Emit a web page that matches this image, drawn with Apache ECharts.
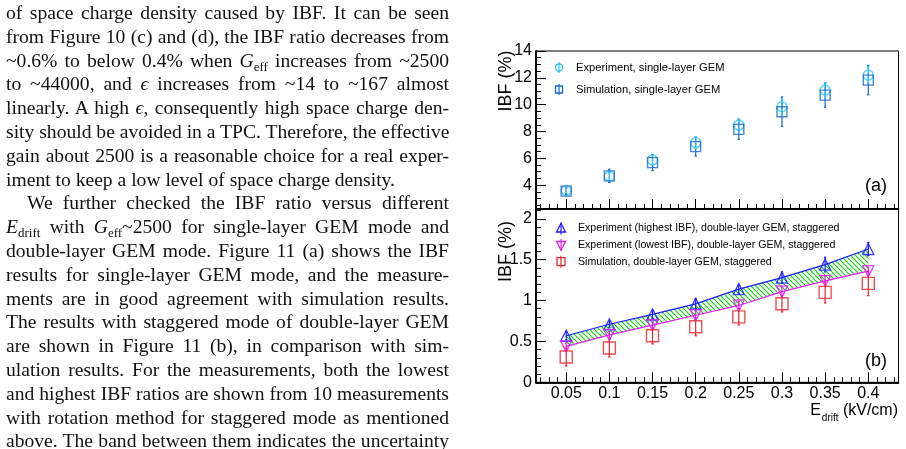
<!DOCTYPE html>
<html lang="en">
<head>
<meta charset="UTF-8">
<title>IBF vs Edrift</title>
<script src="https://cdn.jsdelivr.net/npm/echarts@6/dist/echarts.min.js"></script>
<style>
  body { margin: 0; background: #fff; }
  #page { position: relative; width: 906px; height: 449px; overflow: hidden; }
  #chart { position: absolute; left: 0; top: 0; width: 906px; height: 449px; }
  .ln { position: absolute; left: 6px; width: 443px; height: 23.8px; line-height: 23.8px;
        font-family: 'Liberation Serif', 'DejaVu Serif', serif; font-size: 19.6px; color: #111;
        white-space: nowrap; text-align: justify; text-align-last: justify; }
  .ln.left { text-align: left; text-align-last: left; }
  .ln sub { font-size: 13px; vertical-align: baseline; position: relative; top: 4px; }
</style>
</head>
<body>
<div id="page">
  <div id="chart"></div>
  <div id="text"></div>
</div>
<script>
// values
const xVals = [0.05, 0.1, 0.15, 0.2, 0.25, 0.3, 0.35, 0.4]
const xTickLabels = ['0.05', '0.1', '0.15', '0.2', '0.25', '0.3', '0.35', '0.4']
const topTicks = [4, 6, 8, 10, 12, 14]
const bottomTicks = [0, 0.5, 1, 1.5, 2]

// (a) single-layer GEM
const expSingle = [3.6, 4.64, 5.88, 7.17, 8.48, 9.84, 11.09, 12.2]
const expSingleErr = [0.2, 0.3, 0.35, 0.45, 0.45, 0.55, 0.55, 0.65]
const simSingle = [3.55, 4.69, 5.68, 6.87, 8.16, 9.47, 10.71, 11.83]
const simSingleErr = [0.25, 0.5, 0.6, 0.7, 0.75, 1.1, 0.9, 1.1]

// (b) double-layer GEM, staggered
const expHigh = [0.57, 0.71, 0.83, 0.96, 1.14, 1.28, 1.44, 1.63]
const expHighErr = [0.05, 0.04, 0.05, 0.06, 0.05, 0.07, 0.09, 0.08]
const expLow = [0.44, 0.58, 0.70, 0.82, 0.94, 1.11, 1.24, 1.36]
const expLowErr = [0.04, 0.04, 0.04, 0.05, 0.05, 0.05, 0.06, 0.05]
const simDouble = [0.31, 0.42, 0.57, 0.68, 0.80, 0.96, 1.10, 1.21]
const simDoubleErr = [0.11, 0.11, 0.1, 0.11, 0.1, 0.1, 0.13, 0.15]

const textLines = [
  ['of space charge density caused by IBF. It can be seen', ''],
  ['from Figure 10 (c) and (d), the IBF ratio decreases from', ''],
  ['~0.6% to below 0.4% when <i>G</i><sub>eff</sub> increases from ~2500', ''],
  ['to ~44000, and <i>ϵ</i> increases from ~14 to ~167 almost', ''],
  ['linearly. A high <i>ϵ</i>, consequently high space charge den-', ''],
  ['sity should be avoided in a TPC. Therefore, the effective', ''],
  ['gain about 2500 is a reasonable choice for a real exper-', ''],
  ['iment to keep a low level of space charge density.', 'left'],
  ['We further checked the IBF ratio versus different', 'indent'],
  ['<i>E</i><sub>drift</sub> with <i>G</i><sub>eff</sub>~2500 for single-layer GEM mode and', ''],
  ['double-layer GEM mode. Figure 11 (a) shows the IBF', ''],
  ['results for single-layer GEM mode, and the measure-', ''],
  ['ments are in good agreement with simulation results.', ''],
  ['The results with staggered mode of double-layer GEM', ''],
  ['are shown in Figure 11 (b), in comparison with sim-', ''],
  ['ulation results. For the measurements, both the lowest', ''],
  ['and highest IBF ratios are shown from 10 measurements', ''],
  ['with rotation method for staggered mode as mentioned', ''],
  ['above. The band between them indicates the uncertainty', '']
]

const textBox = document.getElementById('text')
textLines.forEach((l, i) => {
  const d = document.createElement('div')
  d.className = 'ln' + (l[1] === 'left' ? ' left' : '')
  d.style.top = (1.0 + i * 23.8) + 'px'
  if (l[1] === 'indent') { d.style.left = '27px'; d.style.width = '422px' }
  d.innerHTML = l[0]
  textBox.appendChild(d)
})

const cExp = '#2cc6f6'
const cSim = '#1668cc'
const cHigh = '#1a1aff'
const cLow = '#e020ee'
const cRed = '#e8252b'
const font = "'Liberation Sans', Arial, sans-serif"

const minorList = (lo, hi, step, majors) => {
  const out = []
  for (let v = lo; v <= hi + 1e-9; v += step) {
    const r = Math.round(v * 1000) / 1000
    if (!majors.some(m => Math.abs(m - r) < 1e-6)) out.push(r)
  }
  return out
}

const hatch = document.createElement('canvas')
hatch.width = 5
hatch.height = 5
const hctx = hatch.getContext('2d')
hctx.strokeStyle = '#10d010'
hctx.lineWidth = 1.2
for (const o of [-5, 0, 5]) {
  hctx.beginPath()
  hctx.moveTo(o, 0)
  hctx.lineTo(o + 5, 5)
  hctx.stroke()
}

const chart = echarts.init(document.getElementById('chart'))

const G0 = { left: 536, top: 51, width: 362.5, height: 158 }
const G1 = { left: 536, top: 209, width: 362.5, height: 173.3 }

const xAxisBase = (grid, labels, custom, len) => ({
  type: 'value', gridIndex: grid, position: 'bottom', min: 0.015, max: 0.435,
  splitLine: { show: false },
  axisLine: { show: true, onZero: false, lineStyle: { color: '#000', width: 1.5 } },
  axisTick: { show: true, inside: true, length: len, customValues: custom, lineStyle: { color: '#000', width: 1 } },
  axisLabel: labels ? {
    show: true, customValues: xVals, margin: 3, color: '#000', fontSize: 16, fontFamily: font,
    formatter: v => xTickLabels[xVals.findIndex(x => Math.abs(x - v) < 1e-6)] || ''
  } : { show: false }
})

const yAxisBase = (grid, min, max, labels, custom, len) => ({
  type: 'value', gridIndex: grid, position: 'left', min: min, max: max,
  splitLine: { show: false },
  axisLine: { show: true, onZero: false, lineStyle: { color: '#000', width: 1.5 } },
  axisTick: { show: true, inside: true, length: len, customValues: custom, lineStyle: { color: '#000', width: 1 } },
  axisLabel: labels ? {
    show: true, customValues: labels, margin: 4, color: '#000', fontSize: 16, fontFamily: font,
    formatter: v => String(v)
  } : { show: false }
})

const errSeries = (xi, yi, vals, errs, color) => ({
  type: 'custom', xAxisIndex: xi, yAxisIndex: yi, silent: true, z: 3,
  data: xVals.map((x, i) => [x, vals[i], errs[i]]),
  encode: { x: 0, y: 1 },
  renderItem: (params, api) => {
    const x = api.value(0), y = api.value(1), e = api.value(2)
    const t = api.coord([x, y + e])
    const b = api.coord([x, y - e])
    const st = { stroke: color, lineWidth: 1.2 }
    return {
      type: 'group', children: [
        { type: 'line', shape: { x1: t[0], y1: t[1], x2: b[0], y2: b[1] }, style: st },
        { type: 'line', shape: { x1: t[0] - 1.2, y1: t[1], x2: t[0] + 1.2, y2: t[1] }, style: st },
        { type: 'line', shape: { x1: b[0] - 1.2, y1: b[1], x2: b[0] + 1.2, y2: b[1] }, style: st }
      ]
    }
  }
})

const markers = (xi, yi, vals, symbol, size, color, rotate) => ({
  type: 'scatter', xAxisIndex: xi, yAxisIndex: yi, silent: true, z: 4,
  symbol: symbol, symbolSize: size, symbolRotate: rotate || 0,
  data: xVals.map((x, i) => [x, vals[i]]),
  itemStyle: { color: 'rgba(255,255,255,0)', borderColor: color, borderWidth: 1.4 }
})

const edgeLine = (vals, color) => ({
  type: 'line', xAxisIndex: 2, yAxisIndex: 2, silent: true, z: 2,
  data: xVals.map((x, i) => [x, vals[i]]),
  showSymbol: false, symbol: 'none',
  lineStyle: { color: color, width: 1.2 }
})

const band = {
  type: 'custom', xAxisIndex: 2, yAxisIndex: 2, silent: true, z: 1,
  data: [[xVals[0], expHigh[0]]],
  encode: { x: 0, y: 1 },
  renderItem: (params, api) => {
    const pts = []
    xVals.forEach((x, i) => pts.push(api.coord([x, expHigh[i]])))
    for (let i = xVals.length - 1; i >= 0; i--) pts.push(api.coord([xVals[i], expLow[i]]))
    return { type: 'polygon', shape: { points: pts }, style: { fill: { image: hatch, repeat: 'repeat' }, stroke: 'none' } }
  }
}

const legendRow = (x, y, label, shape, color, size, fs) => {
  const h = size / 2
  let sym
  if (shape === 'circle') sym = { type: 'circle', shape: { cx: x, cy: y, r: h - 1 } }
  else if (shape === 'rect') sym = { type: 'rect', shape: { x: x - h + 1, y: y - h + 1, width: size - 2, height: size - 2 } }
  else if (shape === 'up') sym = { type: 'polygon', shape: { points: [[x, y - h], [x + h * 0.9, y + h * 0.7], [x - h * 0.9, y + h * 0.7]] } }
  else sym = { type: 'polygon', shape: { points: [[x, y + h], [x + h * 0.9, y - h * 0.7], [x - h * 0.9, y - h * 0.7]] } }
  sym.style = { fill: 'none', stroke: color, lineWidth: 1.3 }
  return [
    sym,
    { type: 'line', shape: { x1: x, y1: y - h - 1, x2: x, y2: y + h + 1 }, style: { stroke: color, lineWidth: 1.2 } },
    { type: 'text', x: x + 17, y: y, style: { text: label, fill: '#000', font: fs + 'px ' + font, textVerticalAlign: 'middle' } }
  ]
}

const graphics = [].concat(
  legendRow(559, 67.5, 'Experiment, single-layer GEM', 'circle', cExp, 9, 11.2),
  legendRow(559, 89.5, 'Simulation, single-layer GEM', 'rect', cSim, 9, 11.2),
  legendRow(561, 228.5, 'Experiment (highest IBF), double-layer GEM, staggered', 'up', cHigh, 10, 10.6),
  legendRow(561, 245, 'Experiment (lowest IBF), double-layer GEM, staggered', 'down', cLow, 10, 10.6),
  legendRow(561, 261.7, 'Simulation, double-layer GEM, staggered', 'rect', cRed, 10, 10.6),
  [
    { type: 'text', x: 506, y: 81, rotation: Math.PI / 2, style: { text: 'IBF (%)', fill: '#000', font: '18px ' + font, textAlign: 'center', textVerticalAlign: 'middle' } },
    { type: 'text', x: 506, y: 251.5, rotation: Math.PI / 2, style: { text: 'IBF (%)', fill: '#000', font: '18px ' + font, textAlign: 'center', textVerticalAlign: 'middle' } },
    { type: 'text', x: 887, y: 186.5, style: { text: '(a)', fill: '#000', font: '18px ' + font, textAlign: 'right', textVerticalAlign: 'middle' } },
    { type: 'text', x: 887, y: 361, style: { text: '(b)', fill: '#000', font: '18px ' + font, textAlign: 'right', textVerticalAlign: 'middle' } },
    { type: 'text', x: 898, y: 411, style: { text: '(kV/cm)', fill: '#000', font: '16px ' + font, textAlign: 'right', textVerticalAlign: 'middle' } },
    { type: 'text', x: 838.5, y: 418, style: { text: 'drift', fill: '#000', font: '10px ' + font, textAlign: 'right', textVerticalAlign: 'middle' } },
    { type: 'text', x: 821, y: 411, style: { text: 'E', fill: '#000', font: '16px ' + font, textAlign: 'right', textVerticalAlign: 'middle' } }
  ]
)

chart.setOption({
  animation: false,
  grid: [
    Object.assign({ show: true, borderColor: '#000', borderWidth: 1 }, G0),
    Object.assign({ show: true, borderColor: '#000', borderWidth: 1 }, G1)
  ],
  xAxis: [
    xAxisBase(0, false, xVals, 10),
    xAxisBase(0, false, minorList(0.02, 0.43, 0.01, xVals), 5),
    xAxisBase(1, true, xVals, 10),
    xAxisBase(1, false, minorList(0.02, 0.43, 0.01, xVals), 5)
  ],
  yAxis: [
    yAxisBase(0, 2.22, 14, topTicks, topTicks, 10),
    yAxisBase(0, 2.22, 14, null, minorList(2.5, 14, 0.5, topTicks), 5),
    yAxisBase(1, 0, 2.12, bottomTicks, bottomTicks, 10),
    yAxisBase(1, 0, 2.12, null, minorList(0.1, 2.1, 0.1, bottomTicks), 5)
  ],
  series: [
    errSeries(0, 0, simSingle, simSingleErr, cSim),
    errSeries(0, 0, expSingle, expSingleErr, cExp),
    markers(0, 0, expSingle, 'circle', 10, cExp),
    markers(0, 0, simSingle, 'rect', 10, cSim),
    band,
    edgeLine(expHigh, cHigh),
    edgeLine(expLow, cLow),
    errSeries(2, 2, simDouble, simDoubleErr, cRed),
    errSeries(2, 2, expHigh, expHighErr, cHigh),
    errSeries(2, 2, expLow, expLowErr, cLow),
    markers(2, 2, expHigh, 'triangle', 11, cHigh),
    markers(2, 2, expLow, 'triangle', 11, cLow, 180),
    markers(2, 2, simDouble, 'rect', 12, cRed)
  ],
  graphic: graphics
})
</script>
</body>
</html>
